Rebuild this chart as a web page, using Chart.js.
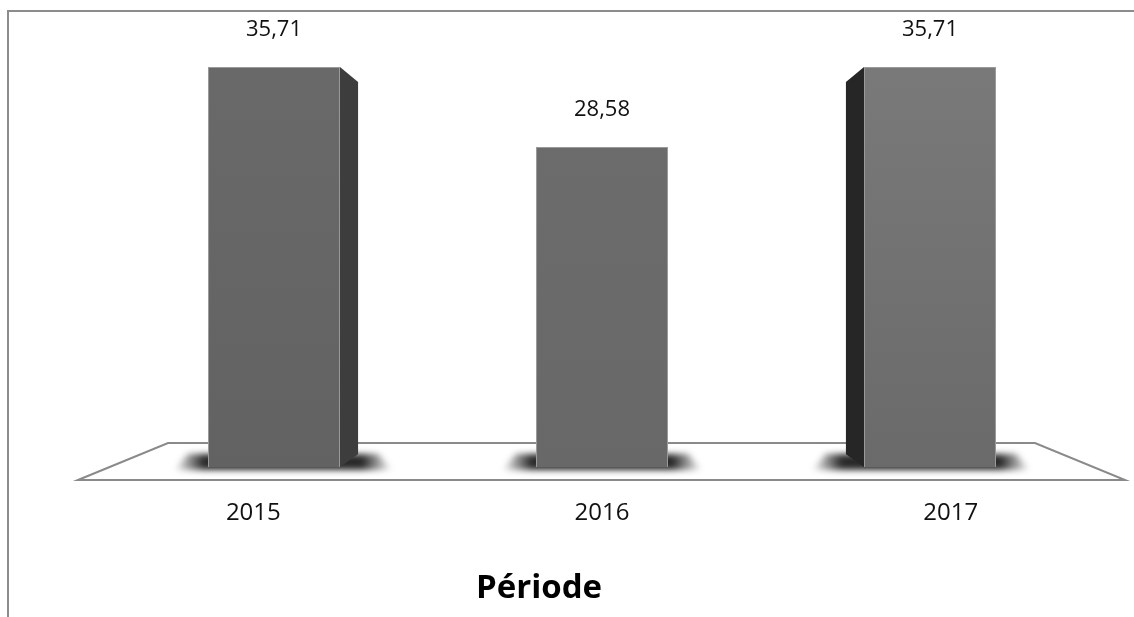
<!DOCTYPE html>
<html>
<head>
<meta charset="utf-8">
<script src="https://cdn.jsdelivr.net/npm/chart.js@4/dist/chart.umd.min.js"></script>
<style>
  html, body { margin: 0; padding: 0; background: #ffffff; }
  #wrap { width: 1134px; height: 617px; }
</style>
</head>
<body>
<div id="wrap"><canvas id="chart" width="1134" height="617"></canvas></div>
<script>
// Chart data
const categories = ['2015', '2016', '2017'];
const values = [35.71, 28.58, 35.71];
const valueLabels = ['35,71', '28,58', '35,71'];
const axisTitle = 'Période';

// Styling of the pseudo-3D columns
const frontTop = ['#6a6a6a', '#6d6d6d', '#7b7b7b'];
const frontBottom = ['#626262', '#686868', '#6a6a6a'];
const sideColors = ['#3d3d3d', '#333333', '#262626'];
const DEPTH = 0.931;          // back face scale towards the vanishing point
const VP_FRAC = 0.59;         // vanishing point height within the plot area
const LABEL_SPREAD = 1.063;   // category labels sit on the projected front edge
const SHADOW_REACH = 34;      // how far the foot shadow spreads past a column
const FONT = '"Open Sans", "Noto Sans", sans-serif';

function vanishingPoint(area) {
  return { x: (area.left + area.right) / 2, y: area.top + (area.bottom - area.top) * VP_FRAC };
}

function barBox(bar) {
  const half = bar.width / 2;
  return { l: bar.x - half, r: bar.x + half, t: bar.y, b: bar.base };
}

const scenePlugin = {
  id: 'scene',
  beforeDatasetsDraw(chart) {
    const { ctx, chartArea: a } = chart;
    const vp = vanishingPoint(a);
    ctx.save();
    // outer frame (only top and left edges fall on the canvas)
    ctx.strokeStyle = '#8c8c8c';
    ctx.lineWidth = 2;
    ctx.strokeRect(8, 11, 1400, 900);

    // floor plane
    ctx.beginPath();
    ctx.moveTo(a.left - 32, a.bottom + 13);
    ctx.lineTo(a.left + 58, a.bottom - 24);
    ctx.lineTo(a.right - 59, a.bottom - 24);
    ctx.lineTo(a.right + 31, a.bottom + 13);
    ctx.closePath();
    ctx.fillStyle = '#ffffff';
    ctx.fill();
    ctx.strokeStyle = '#8a8a8a';
    ctx.lineWidth = 2;
    ctx.stroke();

    // soft shadows at the foot of each column, fading outwards
    const meta = chart.getDatasetMeta(0);
    meta.data.forEach((bar) => {
      const bx = barBox(bar);
      const backL = vp.x + (bx.l - vp.x) * DEPTH;
      const backR = vp.x + (bx.r - vp.x) * DEPTH;
      const innerL = Math.min(bx.l, backL);
      const innerR = Math.max(bx.r, backR);
      const l = innerL - SHADOW_REACH;
      const r = innerR + SHADOW_REACH;
      const g = ctx.createLinearGradient(l, 0, r, 0);
      const w = r - l;
      g.addColorStop(0, 'rgba(30,30,30,0)');
      g.addColorStop((SHADOW_REACH - 4) / w, 'rgba(30,30,30,0.95)');
      g.addColorStop(1 - (SHADOW_REACH - 4) / w, 'rgba(30,30,30,0.95)');
      g.addColorStop(1, 'rgba(30,30,30,0)');
      ctx.save();
      ctx.filter = 'blur(3px)';
      ctx.fillStyle = g;
      ctx.beginPath();
      ctx.moveTo(l + 14, bx.b - 13);
      ctx.lineTo(r - 14, bx.b - 13);
      ctx.lineTo(r, bx.b + 3);
      ctx.lineTo(l, bx.b + 3);
      ctx.closePath();
      ctx.fill();
      ctx.restore();
    });
    ctx.restore();
  },
  afterDatasetsDraw(chart) {
    const { ctx, chartArea: a } = chart;
    const vp = vanishingPoint(a);
    const meta = chart.getDatasetMeta(0);
    ctx.save();
    meta.data.forEach((bar, i) => {
      const bx = barBox(bar);
      const proj = (x, y) => [vp.x + (x - vp.x) * DEPTH, vp.y + (y - vp.y) * DEPTH];
      let edge = null;
      if (bx.r < vp.x) edge = bx.r;
      else if (bx.l > vp.x) edge = bx.l;
      if (edge === null) return;
      const [x1, y1] = proj(edge, bx.t);
      const [, y2] = proj(edge, bx.b);
      ctx.beginPath();
      ctx.moveTo(edge, bx.t);
      ctx.lineTo(x1, y1);
      ctx.lineTo(x1, y2);
      ctx.lineTo(edge, bx.b);
      ctx.closePath();
      ctx.fillStyle = sideColors[i];
      ctx.fill();
    });
    ctx.restore();
  },
  afterDraw(chart) {
    const { ctx, chartArea: a } = chart;
    const vp = vanishingPoint(a);
    const meta = chart.getDatasetMeta(0);
    ctx.save();
    ctx.fillStyle = '#111111';
    ctx.textAlign = 'center';
    ctx.textBaseline = 'middle';
    // value labels above the columns
    ctx.font = '22px ' + FONT;
    meta.data.forEach((bar, i) => {
      ctx.fillText(valueLabels[i], bar.x, bar.y - 37);
    });
    // category labels on the projected front edge of the floor
    ctx.font = '24px ' + FONT;
    meta.data.forEach((bar, i) => {
      const x = vp.x + (bar.x - vp.x) * LABEL_SPREAD;
      ctx.fillText(categories[i], x, a.bottom + 46);
    });
    // axis title
    ctx.fillStyle = '#000000';
    ctx.font = 'bold 33px ' + FONT;
    ctx.fillText(axisTitle, 539, 589);
    ctx.restore();
  }
};

new Chart(document.getElementById('chart'), {
  type: 'bar',
  data: {
    labels: categories,
    datasets: [{
      data: values,
      backgroundColor(context) {
        const { chart, dataIndex } = context;
        const a = chart.chartArea;
        if (!a) return frontTop[dataIndex];
        const g = chart.ctx.createLinearGradient(0, a.top, 0, a.bottom);
        g.addColorStop(0, frontTop[dataIndex]);
        g.addColorStop(1, frontBottom[dataIndex]);
        return g;
      },
      borderColor: '#9a9a9a',
      borderWidth: 1,
      borderSkipped: 'bottom',
      categoryPercentage: 1,
      barPercentage: 0.4024
    }]
  },
  options: {
    responsive: false,
    devicePixelRatio: 1,
    animation: false,
    layout: { padding: { left: 110, right: 40, top: 19, bottom: 150 } },
    plugins: { legend: { display: false }, tooltip: { enabled: false } },
    scales: {
      x: { display: false },
      y: { display: false, min: 0, max: 40 }
    }
  },
  plugins: [scenePlugin]
});
</script>
</body>
</html>
